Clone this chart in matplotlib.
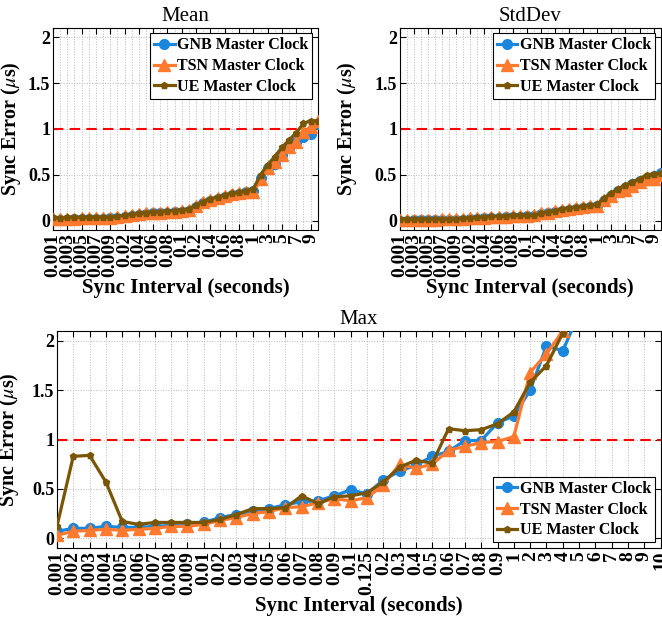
import numpy as np
import matplotlib
matplotlib.use("Agg")
import matplotlib.pyplot as plt

plt.rcParams['font.family'] = ['Liberation Serif', 'DejaVu Serif']
plt.rcParams['mathtext.fontset'] = 'stix'

# sync intervals (categorical x axis)
intervals = ['0.001', '0.002', '0.003', '0.004', '0.005', '0.006', '0.007', '0.008', '0.009',
             '0.01', '0.02', '0.03', '0.04', '0.05', '0.06', '0.07', '0.08', '0.09',
             '0.1', '0.125', '0.2', '0.3', '0.4', '0.5', '0.6', '0.7', '0.8', '0.9',
             '1', '2', '3', '4', '5', '6', '7', '8', '9', '10']

# Mean sync error (us)
mean_gnb = [0.01, 0.01, 0.01, 0.02, 0.02, 0.02, 0.02, 0.02, 0.03, 0.03,
            0.04, 0.05, 0.06, 0.07, 0.08, 0.08, 0.09, 0.10, 0.10, 0.11,
            0.15, 0.19, 0.22, 0.24, 0.26, 0.28, 0.29, 0.31, 0.32,
            0.47, 0.57, 0.62, 0.72, 0.79, 0.86, 0.91, 0.95, 1.05]
mean_tsn = [0.02, 0.02, 0.02, 0.02, 0.03, 0.03, 0.03, 0.03, 0.03, 0.04,
            0.05, 0.06, 0.07, 0.08, 0.09, 0.09, 0.10, 0.10, 0.11, 0.12,
            0.16, 0.20, 0.23, 0.25, 0.27, 0.29, 0.30, 0.31, 0.31,
            0.45, 0.58, 0.64, 0.72, 0.80, 0.86, 0.97, 1.02, 1.09]
mean_ue = [0.04, 0.03, 0.04, 0.04, 0.04, 0.04, 0.04, 0.04, 0.04, 0.05,
           0.06, 0.07, 0.08, 0.09, 0.10, 0.10, 0.11, 0.11, 0.12, 0.13,
           0.17, 0.21, 0.24, 0.26, 0.28, 0.30, 0.31, 0.33, 0.35,
           0.50, 0.61, 0.70, 0.80, 0.88, 0.96, 1.06, 1.09, 1.09]

# Standard deviation (us)
std_gnb = [0.00, 0.00, 0.01, 0.01, 0.01, 0.01, 0.01, 0.01, 0.01, 0.01,
           0.02, 0.02, 0.03, 0.03, 0.03, 0.04, 0.04, 0.04, 0.05, 0.05,
           0.07, 0.09, 0.10, 0.11, 0.12, 0.13, 0.14, 0.15, 0.16,
           0.22, 0.27, 0.32, 0.36, 0.40, 0.43, 0.46, 0.49, 0.52]
std_tsn = [0.01, 0.01, 0.01, 0.01, 0.01, 0.01, 0.02, 0.02, 0.02, 0.02,
           0.03, 0.03, 0.03, 0.04, 0.04, 0.04, 0.05, 0.05, 0.05, 0.06,
           0.08, 0.09, 0.11, 0.12, 0.13, 0.14, 0.15, 0.16, 0.16,
           0.23, 0.27, 0.33, 0.34, 0.38, 0.42, 0.46, 0.46, 0.50]
std_ue = [0.02, 0.02, 0.02, 0.02, 0.02, 0.02, 0.02, 0.02, 0.02, 0.03,
          0.03, 0.04, 0.04, 0.05, 0.05, 0.05, 0.06, 0.06, 0.06, 0.06,
          0.08, 0.10, 0.11, 0.13, 0.14, 0.15, 0.16, 0.17, 0.18,
          0.25, 0.30, 0.35, 0.39, 0.42, 0.46, 0.50, 0.51, 0.52]

# Max sync error (us), series stop where they leave the plot
max_gnb = [0.07, 0.10, 0.10, 0.12, 0.11, 0.11, 0.12, 0.13, 0.14, 0.16,
           0.21, 0.24, 0.28, 0.30, 0.34, 0.37, 0.38, 0.43, 0.49, 0.45,
           0.59, 0.68, 0.74, 0.83, 0.88, 0.99, 0.99, 1.17, 1.24,
           1.50, 1.95, 1.90, 2.28]
max_tsn = [0.03, 0.07, 0.08, 0.09, 0.08, 0.09, 0.10, 0.12, 0.12, 0.14,
           0.18, 0.21, 0.25, 0.27, 0.31, 0.32, 0.36, 0.40, 0.38, 0.41,
           0.54, 0.75, 0.71, 0.75, 0.89, 0.93, 0.97, 0.98, 1.03,
           1.68, 1.87, 2.10]
max_ue = [0.12, 0.83, 0.84, 0.57, 0.17, 0.14, 0.16, 0.16, 0.16, 0.16,
          0.19, 0.24, 0.30, 0.30, 0.31, 0.43, 0.35, 0.42, 0.43, 0.46,
          0.57, 0.72, 0.79, 0.76, 1.11, 1.09, 1.10, 1.16, 1.28,
          1.58, 1.75, 2.08]

c_gnb = '#1a86dc'
c_tsn = '#ff7a2e'
c_ue = '#7a5504'


def draw(ax, gnb, tsn, ue, title, step, legend_loc, ylab_x):
    ax.plot(np.arange(len(gnb)), gnb, color=c_gnb, lw=2.3, marker='o', ms=7,
            label='GNB Master Clock', zorder=3)
    ax.plot(np.arange(len(tsn)), tsn, color=c_tsn, lw=2.3, marker='^', ms=8,
            label='TSN Master Clock', zorder=4)
    ax.plot(np.arange(len(ue)), ue, color=c_ue, lw=2.3, marker='p', ms=5,
            label='UE Master Clock', zorder=5)
    ax.axhline(1, color='red', ls=(0, (5, 3)), lw=1.5, zorder=2)
    ax.set_xlim(0, len(intervals) - 1)
    ax.set_ylim(-0.1, 2.1)
    ax.set_yticks([0, 0.5, 1, 1.5, 2])
    ax.set_yticklabels(['0', '0.5', '1', '1.5', '2'], fontsize=13, fontweight='bold')
    ticks = np.arange(0, len(intervals), step)
    ax.set_xticks(ticks)
    ax.set_xticklabels([intervals[i] for i in ticks], rotation=90,
                       fontsize=14, fontweight='bold')
    ax.set_xticks(np.arange(len(intervals)), minor=True)
    ax.tick_params(which='both', direction='in', top=True, right=True, length=4,
                   pad=2)
    ax.tick_params(axis='x', which='minor', length=0)
    ax.grid(True, which='both', axis='x', ls=':', color='#b8b8b8', lw=0.7)
    ax.grid(True, which='major', axis='y', ls=':', color='#b8b8b8', lw=0.7)
    ax.set_axisbelow(True)
    for s in ax.spines.values():
        s.set_linewidth(0.8)
    ax.set_title(title, fontsize=15, pad=5)
    ax.set_xlabel('Sync Interval (seconds)', fontsize=15, fontweight='bold',
                  labelpad=1)
    ax.set_ylabel(r'Sync Error ($\mu$s)', fontsize=14.5, fontweight='bold')
    ax.yaxis.set_label_coords(ylab_x, 0.5)
    leg = ax.legend(loc=legend_loc, fancybox=False, framealpha=1,
                    edgecolor='black', handlelength=1.3, handletextpad=0.15,
                    borderpad=0.25, labelspacing=0.3, borderaxespad=0.35,
                    prop={'weight': 'bold', 'size': 11.5})
    leg.get_frame().set_linewidth(0.8)


fig = plt.figure(figsize=(6.62, 6.2), dpi=100)
ax1 = fig.add_axes([0.080, 0.629, 0.400, 0.326])
ax2 = fig.add_axes([0.604, 0.629, 0.394, 0.326])
ax3 = fig.add_axes([0.086, 0.116, 0.912, 0.350])

draw(ax1, mean_gnb, mean_tsn, mean_ue, 'Mean', 2, 'upper right', -0.115)
draw(ax2, std_gnb, std_tsn, std_ue, 'StdDev', 2, 'upper right', -0.155)
draw(ax3, max_gnb, max_tsn, max_ue, 'Max', 1, 'lower right', -0.06)

fig.savefig('out.png', dpi=100)
